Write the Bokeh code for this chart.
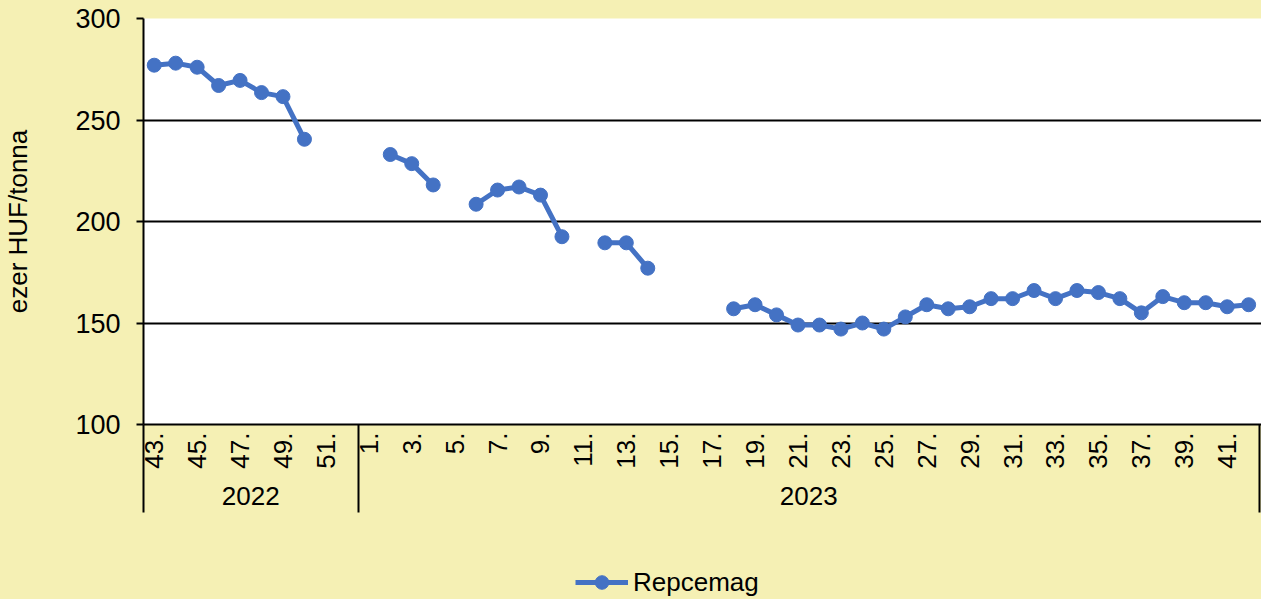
import math
from bokeh.plotting import figure
from bokeh.layouts import column
from bokeh.models import (Range1d, FixedTicker, LinearAxis, Legend, LegendItem,
                          ColumnDataSource)
from bokeh.embed import file_html
from bokeh.resources import INLINE

# ---- data ----
years = ["2022", "2023"]
weeks_2022 = list(range(43, 53))
weeks_2023 = list(range(1, 43))
nan = float("nan")
values_2022 = [277, 278, 276, 267, 269.5, 263.5, 261.5, 240.5, nan, nan]
values_2023 = [nan, 233, 228.5, 218, nan, 208.5, 215.5, 217, 213, 192.5,
               nan, 189.5, 189.5, 177, nan, nan, nan, 157, 159, 154,
               149, 149, 147, 150, 147, 153, 159, 157, 158, 162,
               162, 166, 162, 166, 165, 162, 155, 163, 160, 160,
               158, 159]
y_ticks = [100, 150, 200, 250, 300]
series_name = "Repcemag"
y_title = "ezer HUF/tonna"

weeks = weeks_2022 + weeks_2023
values = values_2022 + values_2023
n = len(weeks)
xs = [i + 0.5 for i in range(n)]

BG = "#F5F0B4"
BLUE = "#4472C4"
FONT = "Liberation Sans"
W = 1261

p = figure(width=W, height=559, output_backend="svg", toolbar_location=None,
           x_range=Range1d(0, n + 0.1), y_range=Range1d(100, 300),
           min_border_left=140, min_border_right=0, min_border_top=18,
           min_border_bottom=135)
p.background_fill_color = "white"
p.border_fill_color = BG
p.outline_line_color = None

src = ColumnDataSource(dict(x=xs, y=values))
r_line = p.line("x", "y", source=src, line_color=BLUE, line_width=5)
r_pts = p.scatter("x", "y", source=src, size=14, fill_color=BLUE, line_color=BLUE)

# y axis
p.yaxis.ticker = FixedTicker(ticks=y_ticks)
p.yaxis.axis_line_color = "black"
p.yaxis.axis_line_width = 2
p.yaxis.major_tick_line_color = "black"
p.yaxis.major_tick_line_width = 2
p.yaxis.major_tick_out = 7
p.yaxis.major_tick_in = 0
p.yaxis.minor_tick_line_color = None
p.yaxis.major_label_text_font = FONT
p.yaxis.major_label_text_font_size = "27px"
p.yaxis.major_label_text_color = "black"
p.yaxis.major_label_standoff = 16
p.yaxis.axis_label = y_title
p.yaxis.axis_label_text_font = FONT
p.yaxis.axis_label_text_font_size = "26px"
p.yaxis.axis_label_text_font_style = "normal"
p.yaxis.axis_label_text_color = "black"
p.yaxis.axis_label_standoff = 39

# grid
p.xgrid.grid_line_color = None
p.ygrid.ticker = FixedTicker(ticks=y_ticks)
p.ygrid.grid_line_color = "black"
p.ygrid.grid_line_width = 2

# x axis: week labels, year separators as long minor ticks
tick_pos = [xs[i] for i in range(n) if weeks[i] % 2 == 1]
sep_pos = [0, len(weeks_2022), n]
p.xaxis.ticker = FixedTicker(ticks=tick_pos, minor_ticks=sep_pos)
p.xaxis.major_label_overrides = {xs[i]: f"{weeks[i]}." for i in range(n) if weeks[i] % 2 == 1}
p.xaxis.major_label_orientation = math.pi / 2
p.xaxis.axis_line_color = "black"
p.xaxis.axis_line_width = 2
p.xaxis.major_tick_line_color = None
p.xaxis.major_tick_out = 0
p.xaxis.major_tick_in = 0
p.xaxis.minor_tick_line_color = "black"
p.xaxis.minor_tick_line_width = 2
p.xaxis.minor_tick_out = 88
p.xaxis.minor_tick_in = 0
p.xaxis.major_label_text_font = FONT
p.xaxis.major_label_text_font_size = "26px"
p.xaxis.major_label_text_color = "black"
p.xaxis.major_label_standoff = -80

# year axis
year_pos = [len(weeks_2022) / 2, len(weeks_2022) + len(weeks_2023) / 2]
yax = LinearAxis(ticker=FixedTicker(ticks=year_pos),
                 major_label_overrides={year_pos[0]: years[0], year_pos[1]: years[1]})
yax.axis_line_color = None
yax.major_tick_line_color = None
yax.minor_tick_line_color = None
yax.major_tick_out = 0
yax.major_tick_in = 0
yax.major_label_text_font = FONT
yax.major_label_text_font_size = "26px"
yax.major_label_text_color = "black"
yax.major_label_standoff = 15
p.add_layout(yax, "below")

# legend strip
q = figure(width=W, height=40, output_backend="svg", toolbar_location=None,
           x_range=Range1d(0, 1), y_range=Range1d(0, 1),
           min_border_left=140, min_border_right=0, min_border_top=0, min_border_bottom=0)
q.axis.visible = False
q.grid.visible = False
q.background_fill_color = BG
q.border_fill_color = BG
q.outline_line_color = None
lsrc = ColumnDataSource(dict(x=[nan], y=[nan]))
l_line = q.line("x", "y", source=lsrc, line_color=BLUE, line_width=5)
l_pts = q.scatter("x", "y", source=lsrc, size=14, fill_color=BLUE, line_color=BLUE)
legend = Legend(items=[LegendItem(label=series_name, renderers=[l_line, l_pts])],
                location=(432, 0), padding=0, margin=0, spacing=0,
                glyph_width=53, glyph_height=34, label_standoff=5,
                label_text_font=FONT, label_text_font_size="26px",
                label_text_color="black", background_fill_alpha=0,
                border_line_color=None)
q.add_layout(legend, "center")

layout = column(p, q, spacing=0, styles={"background-color": BG})
open("out.html", "w").write(file_html(layout, INLINE))
